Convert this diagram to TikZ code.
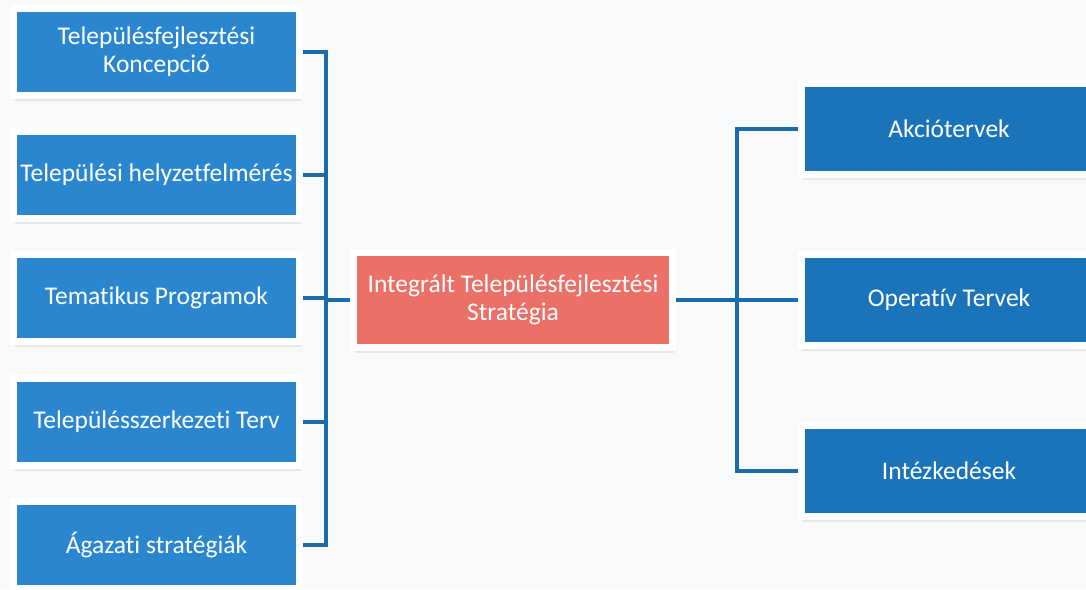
\documentclass[tikz,border=0pt]{standalone}
\usepackage{fontspec}
\setmainfont{Carlito}[Ligatures={NoCommon}]
\usetikzlibrary{shadows}
\definecolor{lblue}{HTML}{2A87CF}
\definecolor{rblue}{HTML}{1B74BA}
\definecolor{mred}{HTML}{EA7068}
\definecolor{conncol}{HTML}{1B6CAD}
\definecolor{paper}{HTML}{F8F9FB}
\begin{document}
\begin{tikzpicture}[x=1pt,y=-1pt,
  framed/.style={draw=white, line width=7pt, text=white, font=\fontsize{25.5}{28}\selectfont, align=center, inner sep=0pt,
    drop shadow={shadow xshift=1pt, shadow yshift=-5pt, opacity=0.15, fill=black!50}},
  lbox/.style={framed, fill=lblue, minimum width=286pt, minimum height=87pt},
  rbox/.style={framed, fill=rblue, minimum width=295pt, minimum height=91pt},
  mbox/.style={framed, fill=mred, minimum width=319pt, minimum height=95pt},
  conn/.style={draw=conncol, line width=4pt, line join=miter}]
\useasboundingbox (0,0) rectangle (1086,589);
\clip (0,0) rectangle (1086,589);
\fill[paper] (0,0) rectangle (1086,589);
\coordinate (lb) at (326,0);
\coordinate (rb) at (737,0);
\path (156.5,52) node[lbox] (L1) {Településfejlesztési\\Koncepció};
\path (156.5,175) node[lbox] (L2) {Települési helyzetfelmérés};
\path (156.5,298) node[lbox] (L3) {Tematikus Programok};
\path (156.5,422) node[lbox] (L4) {Településszerkezeti Terv};
\path (156.5,545) node[lbox] (L5) {Ágazati stratégiák};
\path (513,300) node[mbox] (M) {Integrált Településfejlesztési\\Stratégia};
\path (949,129) node[rbox] (R1) {Akciótervek};
\path (949,300) node[rbox] (R2) {Operatív Tervek};
\path (949,471) node[rbox] (R3) {Intézkedések};
\draw[conn] (L1.east) -- (L1.east -| lb) -- (L5.east -| lb) -- (L5.east);
\draw[conn] (L2.east) -- (L2.east -| lb);
\draw[conn] (L3.east) -- (L3.east -| lb);
\draw[conn] (L4.east) -- (L4.east -| lb);
\draw[conn] (M.west) -- (M.west -| lb);
\draw[conn] (M.east) -- (M.east -| rb);
\draw[conn] (R1.west) -- (R1.west -| rb) -- (R3.west -| rb) -- (R3.west);
\draw[conn] (R2.west) -- (R2.west -| rb);
\end{tikzpicture}
\end{document}
